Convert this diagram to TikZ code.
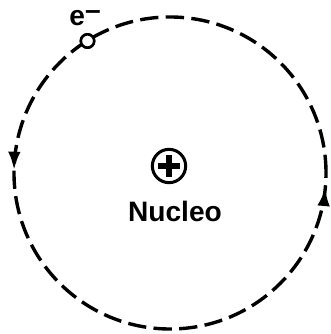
\documentclass[tikz,border=0pt]{standalone}
\usepackage{fontspec}
\setmainfont{Liberation Sans}
\usetikzlibrary{positioning,decorations.markings,arrows.meta}

\begin{document}
\begin{tikzpicture}[
    x=0.03cm, y=0.03cm,
    orbit/.style={line width=2.9pt, dash pattern=on 0.55cm off 0.22cm,
        postaction={decorate, decoration={markings,
            mark=at position 0.497 with {\arrow{Latex[length=0.55cm,width=0.38cm]}},
            mark=at position 0.985 with {\arrow{Latex[length=0.55cm,width=0.38cm]}}}}},
    charge/.style={circle, draw, line width=2.6pt, minimum size=1cm, inner sep=0pt},
    electron/.style={circle, draw, fill=white, line width=2.2pt, minimum size=0.4cm, inner sep=0pt},
    txt/.style={font=\fontsize{24}{27}\selectfont\bfseries, inner sep=0pt}
]
\useasboundingbox (0,0) rectangle (330,334);

% Nodes
\node[charge] (nuc) at (169,168) {};
\node[txt, anchor=base] (name) at (175,112) {Nucleo};
\node[electron] (el) at (87.5,293) {};
\node[txt, anchor=base] (elabel) at (85,308) {e\raisebox{0.24em}{–}};

% Orbit
\draw[orbit] (170,161) circle (156);
\node[electron] at (el) {};

% Plus sign
\draw[line width=4.4pt] ([xshift=-0.33cm]nuc.center) -- ([xshift=0.33cm]nuc.center);
\draw[line width=4.4pt] ([yshift=-0.33cm]nuc.center) -- ([yshift=0.33cm]nuc.center);

\end{tikzpicture}
\end{document}
